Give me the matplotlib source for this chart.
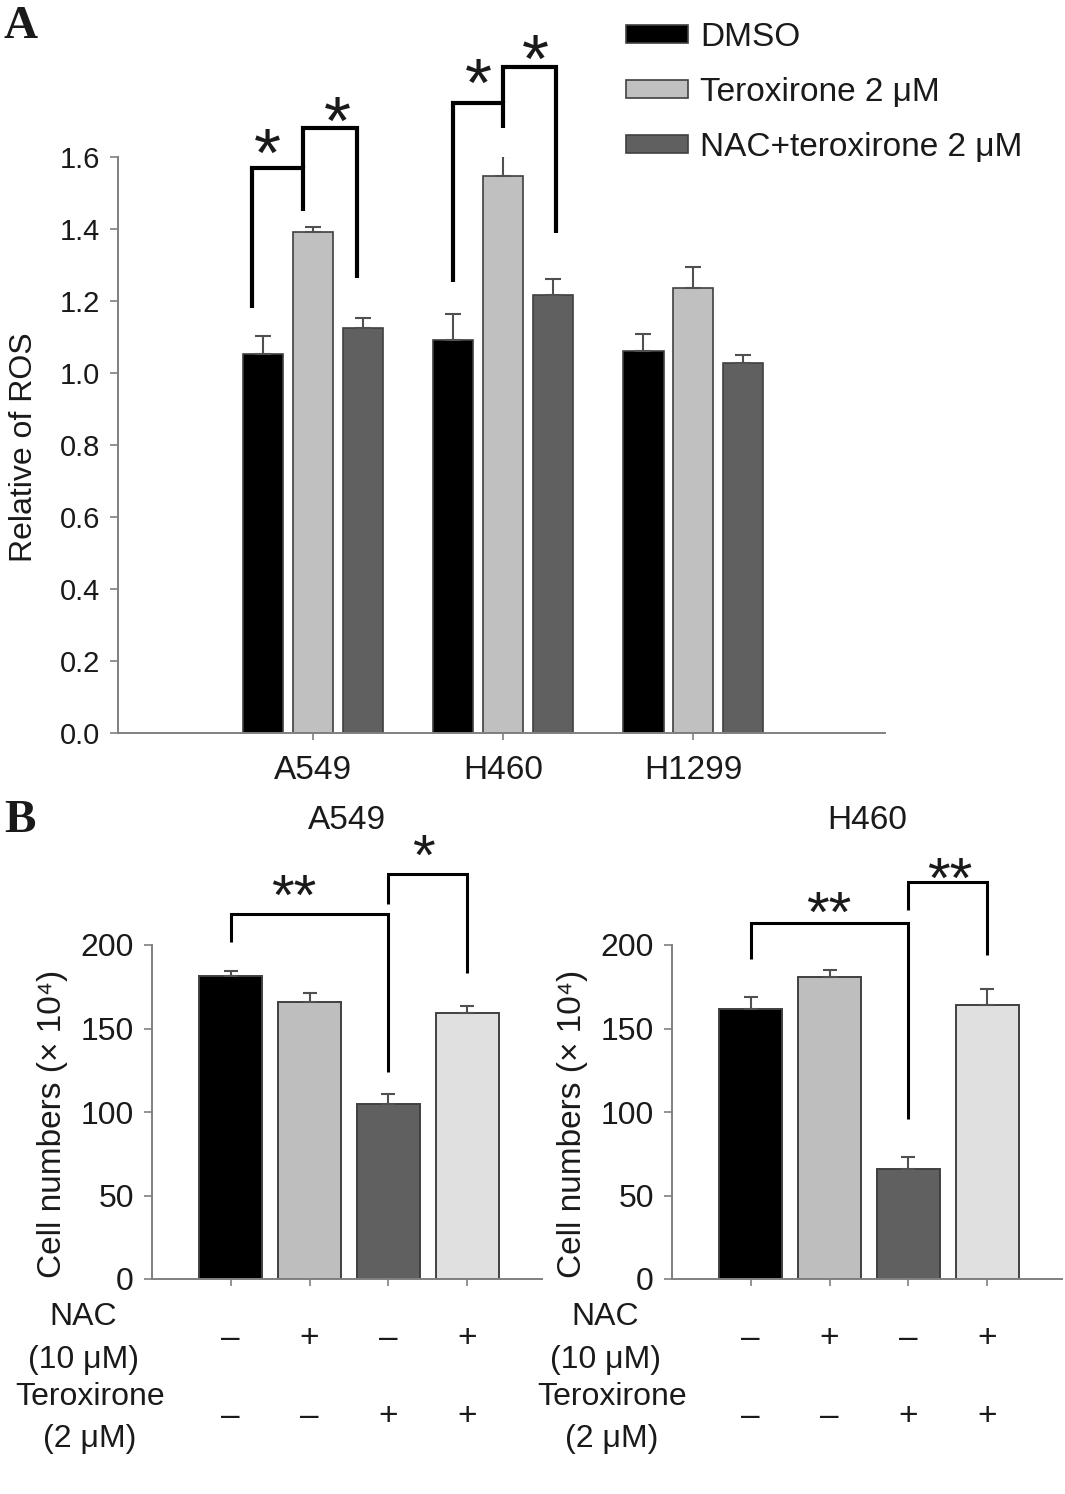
import numpy as np
import matplotlib
matplotlib.use("Agg")
import matplotlib.pyplot as plt
from matplotlib.patches import Patch

plt.rcParams['font.family'] = ['Liberation Sans', 'DejaVu Sans']

# Panel A : relative ROS
cell_lines = ['A549', 'H460', 'H1299']
ros_labels = ['DMSO', 'Teroxirone 2 \u03bcM', 'NAC+teroxirone 2 \u03bcM']
ros_dmso = [1.053, 1.092, 1.061]
ros_dmso_err = [0.050, 0.072, 0.047]
ros_ter = [1.392, 1.547, 1.236]
ros_ter_err = [0.014, 0.056, 0.058]
ros_nac = [1.125, 1.217, 1.028]
ros_nac_err = [0.028, 0.044, 0.022]

# Panel B : cell numbers (x 10^4)
a549_cells = [181.4, 166.0, 104.5, 159.1]
a549_err = [2.9, 5.3, 6.2, 4.2]
h460_cells = [161.8, 180.8, 66.1, 163.9]
h460_err = [7.1, 4.0, 6.9, 9.5]
nac_flags = ['\u2013', '+', '\u2013', '+']
ter_flags = ['\u2013', '\u2013', '+', '+']

# significance brackets: (x_left, x_right, y_top, y_left_end, y_right_end)
ros_brackets = [(-0.32, -0.05, 1.569, 1.18, 1.45),
                (-0.05, 0.23, 1.681, 1.569, 1.264),
                (0.735, 1.0, 1.75, 1.253, 1.681),
                (1.0, 1.28, 1.85, 1.75, 1.389)]
ros_stars = [('*', -0.24, 1.64), ('*', 0.13, 1.73), ('*', 0.87, 1.835), ('*', 1.17, 1.9)]
a549_brackets = [(0, 2, 218.6, 201.5, 124), (2, 3, 242.5, 224.6, 183.5)]
a549_stars = [('**', 0.8, 235), ('*', 2.45, 259)]
h460_brackets = [(0, 2, 213, 191.6, 96), (2, 3, 237.7, 221, 194)]
h460_stars = [('**', 0.99, 224.5), ('**', 2.53, 245)]

W, H = 1065, 1494
TXT = '#1a1a1a'
AX = '#808080'


def fx(px):
    return px / W


def fy(py):
    return 1 - py / H


def style_axes(ax):
    for s in ['top', 'right']:
        ax.spines[s].set_visible(False)
    for s in ['left', 'bottom']:
        ax.spines[s].set_color(AX)
        ax.spines[s].set_linewidth(1.4)
    ax.tick_params(colors=AX, labelcolor=TXT, length=6, width=1.2, direction='out')


def bracket(ax, b, lw):
    x1, x2, yt, y1, y2 = b
    ax.plot([x1, x1, x2, x2], [y1, yt, yt, y2], color='black', lw=lw,
            clip_on=False, solid_capstyle='butt', solid_joinstyle='miter')


def star(ax, s, x, y, fs):
    # shift so that the asterisk ink sits centred on (x, y)
    ax.annotate(s, (x, y), xytext=(0, -0.48 * fs), textcoords='offset points',
                ha='center', va='baseline', fontsize=fs, color=TXT,
                annotation_clip=False)


def panel_a(fig):
    ax = fig.add_axes([fx(118), fy(733), fx(885 - 118), (733 - 157) / H])
    style_axes(ax)
    x = np.arange(len(cell_lines))
    off = 0.263
    w = 0.215
    cols = ['#000000', '#c0c0c0', '#606060']
    series = [(ros_dmso, ros_dmso_err), (ros_ter, ros_ter_err), (ros_nac, ros_nac_err)]
    for i, (vals, errs) in enumerate(series):
        xi = x + (i - 1) * off
        ax.bar(xi, vals, w, color=cols[i], edgecolor='#404040', linewidth=1.2,
               label=ros_labels[i], zorder=2)
        ax.errorbar(xi, vals, yerr=[np.zeros(len(errs)), errs], fmt='none',
                    ecolor='#505050', elinewidth=1.5, capsize=6, capthick=1.5, zorder=3)
    ax.set_xlim(-1.026, 3.01)
    ax.set_ylim(0, 1.6)
    ax.set_yticks(np.arange(0, 1.61, 0.2))
    ax.set_yticklabels(['%.1f' % v for v in np.arange(0, 1.61, 0.2)], fontsize=21)
    ax.set_xticks(x)
    ax.set_xticklabels(cell_lines, fontsize=24)
    ax.tick_params(axis='y', pad=7)
    ax.tick_params(axis='x', length=5, pad=11)
    for b in ros_brackets:
        bracket(ax, b, 3)
    for s, sx, sy in ros_stars:
        star(ax, s, sx, sy, 50)
    fig.text(fx(24), fy(447), 'Relative of ROS', rotation=90, ha='center',
             va='center', fontsize=23, color=TXT)
    handles = [Patch(facecolor=c, edgecolor='#404040', linewidth=1.2) for c in cols]
    ax.legend(handles, ros_labels, loc='upper left', frameon=False, fontsize=24,
              bbox_to_anchor=(fx(626), fy(22)), bbox_transform=fig.transFigure,
              borderpad=0, borderaxespad=0, handlelength=1.86, handleheight=0.48,
              handletextpad=0.36, labelspacing=0.72)
    for t in ax.get_legend().get_texts():
        t.set_color(TXT)


def panel_b(fig, left, title, vals, errs, brackets, stars_, lab_x):
    ax = fig.add_axes([fx(left), fy(1279), fx(390), (1279 - 945) / H])
    style_axes(ax)
    x = np.arange(len(vals))
    cols = ['#000000', '#bebebe', '#606060', '#e0e0e0']
    ax.bar(x, vals, 0.8, color=cols, edgecolor='#404040', linewidth=1.4, zorder=2)
    ax.errorbar(x, vals, yerr=[np.zeros(len(errs)), errs], fmt='none',
                ecolor='#505050', elinewidth=1.5, capsize=5, capthick=1.5, zorder=3)
    ax.set_xlim(-1.0, 3.95)
    ax.set_ylim(0, 200)
    ax.set_yticks([0, 50, 100, 150, 200])
    ax.tick_params(axis='y', labelsize=23, pad=7)
    ax.set_xticks(x)
    ax.set_xticklabels([])
    ax.tick_params(axis='x', length=5)
    for b in brackets:
        bracket(ax, b, 2.2)
    for s, sx, sy in stars_:
        star(ax, s, sx, sy, 42)
    ax.text(0.5, 1.374, title, transform=ax.transAxes, ha='center', va='center',
            fontsize=24, color=TXT)
    tr = ax.get_xaxis_transform()
    for i in x:
        ax.text(i, -0.177, nac_flags[i], transform=tr, ha='center', va='center',
                fontsize=24, color=TXT)
        ax.text(i, -0.413, ter_flags[i], transform=tr, ha='center', va='center',
                fontsize=24, color=TXT)
    fig.text(fx(lab_x), fy(1317), 'NAC', ha='center', va='center', fontsize=23, color=TXT)
    fig.text(fx(lab_x), fy(1360), '(10 \u03bcM)', ha='center', va='center', fontsize=23, color=TXT)
    fig.text(fx(lab_x + 7), fy(1397), 'Teroxirone', ha='center', va='center', fontsize=23, color=TXT)
    fig.text(fx(lab_x + 7), fy(1439), '(2 \u03bcM)', ha='center', va='center', fontsize=23, color=TXT)
    fig.text(fx(left - 100), fy(1124), 'Cell numbers (\u00d7 10\u2074)', rotation=90,
             ha='center', va='center', fontsize=24, color=TXT)


def main():
    fig = plt.figure(figsize=(W / 100, H / 100), dpi=100)
    panel_a(fig)
    panel_b(fig, 152, 'A549', a549_cells, a549_err, a549_brackets, a549_stars, 83)
    panel_b(fig, 672, 'H460', h460_cells, h460_err, h460_brackets, h460_stars, 605)
    fig.text(fx(4), fy(6), 'A', fontsize=34, fontweight='bold', va='top',
             family='Liberation Serif', color=TXT)
    fig.text(fx(4), fy(800), 'B', fontsize=34, fontweight='bold', va='top',
             family='Liberation Serif', color=TXT)
    fig.savefig('out.png', dpi=100)


if __name__ == "__main__":
    main()
